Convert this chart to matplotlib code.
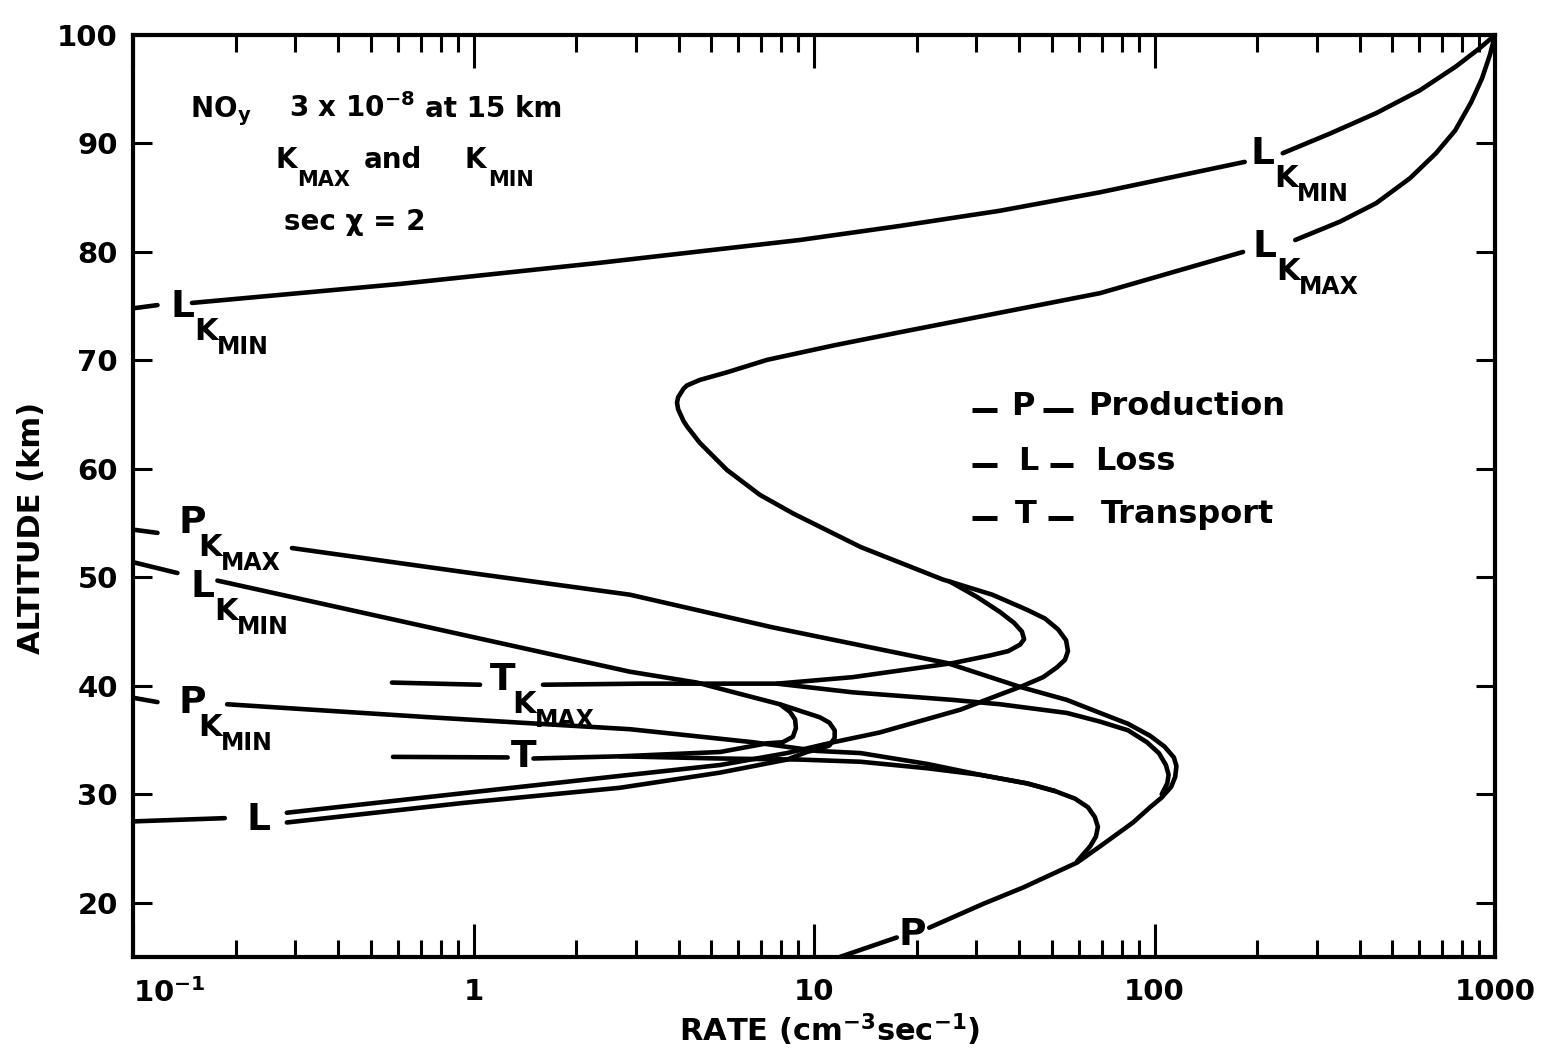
import numpy as np
import matplotlib
matplotlib.use("Agg")
import matplotlib.pyplot as plt
from matplotlib.lines import Line2D
from matplotlib.ticker import LogLocator, NullFormatter

# --- curve data: rate (cm-3 s-1) vs altitude (km) ---

# L, K_MIN, upper (mesospheric) branch
lkmin_up_stub_x = [0.1, 0.118]
lkmin_up_stub_alt = [74.8, 75.1]
lkmin_up_x = [0.149, 0.608, 2.35, 9.08, 17.9, 35.2, 69.2, 184]
lkmin_up_alt = [75.3, 77.05, 79.0, 81.1, 82.4, 83.8, 85.5, 88.3]
lkmin_top_x = [238, 327, 448, 602, 768, 903, 1000]
lkmin_top_alt = [89.1, 90.9, 92.8, 94.9, 97.1, 98.8, 100.0]

# L, K_MAX: from 100 km round the 66 km nose, the 43 km bulge, down to 'L' at 27 km
lkmax_top_x = [1000, 967, 916, 851, 764, 671, 563, 448, 351, 259]
lkmax_top_alt = [100.0, 98.2, 96.0, 93.8, 91.2, 89.1, 86.8, 84.5, 82.8, 81.1]
lkmax_x = [182, 69.2, 35.2, 17.9, 11.5, 7.28, 5.55, 4.62, 4.24, 4.14,
           3.99, 3.96, 3.99, 4.14, 4.24, 4.62, 5.55, 6.94, 8.67, 13.7,
           23.9, 25.1, 33.4, 42.3, 47.7, 52.1, 55.0, 55.7, 54.6, 51.7,
           47.1, 41.1, 35.2, 26.9, 15.6, 11.4, 8.33, 5.30, 2.7, 0.931,
           0.283]
lkmax_alt = [80.0, 76.2, 74.4, 72.6, 71.4, 70.05, 68.9, 68.2, 67.7, 67.4,
             66.6, 66.1, 65.5, 64.4, 63.9, 62.4, 59.9, 57.6, 55.9, 52.8,
             49.8, 49.6, 48.4, 47.0, 46.2, 45.2, 44.2, 43.2, 42.4, 41.7,
             40.8, 40.0, 39.2, 37.8, 35.7, 34.8, 33.8, 32.7, 31.7, 30.1,
             28.3]

# T, K_MAX: upper branch (inner loop) and lower branch, zero near 40 km
tkmax_stub_x = [0.576, 1.045]
tkmax_stub_alt = [40.3, 40.1]
tkmax_up_x = [25.1, 30.1, 35.2, 38.7, 40.8, 41.4, 40.3, 37.2, 32.9, 25.6,
              13.0, 7.79, 3.08, 1.60]
tkmax_up_alt = [49.6, 48.2, 46.8, 45.8, 45.0, 44.3, 43.8, 43.2, 42.8, 42.1,
                40.8, 40.2, 40.2, 40.1]
tkmax_lo_x = [7.79, 13.0, 25.6, 35.2, 55.3, 69.2, 83.6, 95.0, 103, 108,
              110, 109, 105]
tkmax_lo_alt = [40.2, 39.4, 38.7, 38.3, 37.5, 36.7, 35.9, 34.8, 33.8, 32.7,
                31.8, 31.0, 30.0]

# P, K_MAX (continues down to the 'P' at 15 km)
pkmax_stub_x = [0.1, 0.118]
pkmax_stub_alt = [54.4, 54.1]
pkmax_x = [0.293, 0.931, 2.88, 7.53, 24.6, 40.3, 55.3, 69.2, 83.6, 97.0,
           107, 114, 116, 115, 112, 105, 97.0, 86.5, 69.2, 59.2,
           41.1, 31.4, 21.8]
pkmax_alt = [52.7, 50.5, 48.4, 45.4, 42.1, 39.9, 38.7, 37.5, 36.5, 35.4,
             34.4, 33.4, 32.6, 31.6, 30.7, 29.7, 28.8, 27.4, 25.2, 23.7,
             21.4, 19.9, 17.7]
p_low_x = [17.5, 11.9]
p_low_alt = [16.8, 15.0]

# P, K_MIN
pkmin_stub_x = [0.1, 0.118]
pkmin_stub_alt = [38.9, 38.5]
pkmin_x = [0.189, 0.745, 2.88, 6.62, 10.2, 13.7, 21.5, 30.7, 42.3, 51.0,
           58.4, 63.8, 66.8, 68.2, 67.3, 64.7, 59.2]
pkmin_alt = [38.3, 37.1, 36.0, 34.8, 34.0, 33.8, 32.8, 31.8, 31.0, 30.3,
             29.6, 28.8, 27.9, 27.0, 26.1, 25.2, 23.8]

# T, K_MIN: zero near 33.5 km
tkmin_stub_x = [0.58, 1.26]
tkmin_stub_alt = [33.45, 33.4]
tkmin_up_x = [1.50, 2.69, 5.30, 7.28, 8.09, 8.67, 8.85, 8.80, 8.50, 7.94]
tkmin_up_alt = [33.3, 33.5, 33.9, 34.7, 34.8, 35.3, 36.1, 36.9, 37.6, 38.3]
tkmin_lo_x = [2.69, 5.30, 9.1, 13.7, 21.5, 30.7, 42.3, 51.0]
tkmin_lo_alt = [33.5, 33.3, 33.2, 33.0, 32.4, 31.8, 31.0, 30.3]

# L, K_MIN, lower (stratospheric) branch
lkmin_lo_stub_x = [0.1, 0.135]
lkmin_lo_stub_alt = [51.4, 50.4]
lkmin_lo_x = [0.177, 2.88, 4.53, 5.66, 7.94, 10.4, 11.1, 11.5, 11.5, 11.1,
              10.4, 9.53, 8.33, 5.30, 2.69, 0.931, 0.283]
lkmin_lo_alt = [49.7, 41.3, 40.3, 39.5, 38.3, 37.1, 36.6, 35.9, 35.2, 34.5,
                34.2, 33.9, 33.2, 32.0, 30.6, 29.2, 27.4]

# stub left of the 'L' label at 27 km
l_stub_x = [0.1, 0.186]
l_stub_alt = [27.5, 27.8]

xticks = [0.1, 1, 10, 100, 1000]
xticklabels = [r"$\mathbf{10^{-1}}$", "1", "10", "100", "1000"]
yticks = [20, 30, 40, 50, 60, 70, 80, 90, 100]

segments = [
    (lkmin_up_stub_x, lkmin_up_stub_alt), (lkmin_up_x, lkmin_up_alt),
    (lkmin_top_x, lkmin_top_alt),
    (lkmax_top_x, lkmax_top_alt), (lkmax_x, lkmax_alt),
    (tkmax_stub_x, tkmax_stub_alt), (tkmax_up_x, tkmax_up_alt),
    (tkmax_lo_x, tkmax_lo_alt),
    (pkmax_stub_x, pkmax_stub_alt), (pkmax_x, pkmax_alt), (p_low_x, p_low_alt),
    (pkmin_stub_x, pkmin_stub_alt), (pkmin_x, pkmin_alt),
    (tkmin_stub_x, tkmin_stub_alt), (tkmin_up_x, tkmin_up_alt),
    (tkmin_lo_x, tkmin_lo_alt),
    (lkmin_lo_stub_x, lkmin_lo_stub_alt), (lkmin_lo_x, lkmin_lo_alt),
    (l_stub_x, l_stub_alt),
]

plt.rcParams["font.weight"] = "bold"
plt.rcParams["mathtext.default"] = "bf"

W, H = 1541, 1063
fig = plt.figure(figsize=(W / 100, H / 100), dpi=100)
ax = fig.add_axes([133 / W, 1 - 957 / H, (1495 - 133) / W, (957 - 35) / H])

for x, a in segments:
    ax.plot(x, a, color="black", lw=3.3, solid_capstyle="round", solid_joinstyle="round")

ax.set_xscale("log")
ax.set_xlim(0.1, 1000)
ax.set_ylim(15, 100)
ax.set_xticks(xticks)
ax.set_xticklabels(xticklabels)
ax.xaxis.set_minor_locator(LogLocator(base=10, subs=np.arange(2, 10)))
ax.xaxis.set_minor_formatter(NullFormatter())
ax.set_yticks(yticks)
ax.tick_params(which="both", direction="in", top=True, right=True, width=2.2,
               labelsize=21, colors="black")
ax.tick_params(axis="x", which="major", length=24, pad=15)
ax.tick_params(axis="x", which="minor", length=12)
ax.tick_params(axis="y", which="major", length=14, pad=11)
ax.get_xticklabels()[0].set_horizontalalignment("left")
for s in ax.spines.values():
    s.set_linewidth(3)

ax.set_xlabel(r"RATE (cm$^{-3}$sec$^{-1}$)", fontsize=22, fontweight="bold")
ax.xaxis.set_label_coords((830 - 133) / 1362, (957 - 1012) / 922)
ax.set_ylabel("ALTITUDE (km)", fontsize=22, fontweight="bold")
ax.yaxis.set_label_coords((46 - 133) / 1362, (957 - 528) / 922)


def ftxt(x, y, s, size):
    # x, y in pixels of the original picture, y = text baseline
    fig.text(x / W, 1 - y / H, s, fontsize=size, fontweight="bold",
             ha="left", va="baseline")


def curve_label(main, sub, x, y):
    dx = {"L": 24, "P": 20, "T": 22}[main]
    ftxt(x, y, main, 27)
    ftxt(x + dx, y + 23, "K", 22)
    ftxt(x + dx + 23, y + 37, sub, 17)


# curve labels
curve_label("L", "MIN", 170, 317)
curve_label("L", "MIN", 1250, 164)
curve_label("L", "MAX", 1252, 257)
curve_label("P", "MAX", 178, 533)
curve_label("L", "MIN", 190, 597)
curve_label("P", "MIN", 178, 713)
curve_label("T", "MAX", 490, 690)
ftxt(511, 767, "T", 27)
ftxt(247, 830, "L", 27)
ftxt(899, 945, "P", 27)

# conditions
ftxt(190, 117, r"NO$_{y}$", 20)
ftxt(289, 117, r"3 x 10$^{-8}$", 20)
ftxt(425, 117, "at 15 km", 20)
ftxt(276, 168, "K", 20)
ftxt(297, 186, "MAX", 15)
ftxt(364, 168, "and", 20)
ftxt(465, 168, "K", 20)
ftxt(488, 186, "MIN", 15)
ftxt(284, 230, "sec χ = 2", 20)

# key
key = [("P", "Production", 415, 1011, 1043, 1088),
       ("L", "Loss", 470, 1018, 1050, 1095),
       ("T", "Transport", 523, 1015, 1048, 1101)]
for letter, word, base, xl, xd, xw in key:
    for x0, x1 in [(972, 997), (xd, 1073)]:
        fig.add_artist(Line2D([x0 / W, x1 / W], [1 - (base - 5) / H] * 2,
                              color="black", lw=3.6, solid_capstyle="butt"))
    ftxt(xl, base, letter, 23)
    ftxt(xw, base, word, 23)

fig.savefig("out.png", dpi=100, facecolor="white")
